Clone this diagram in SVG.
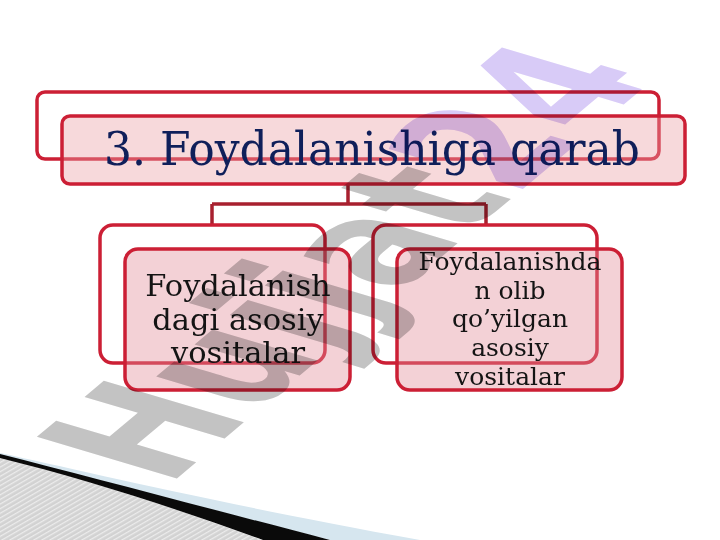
<svg xmlns="http://www.w3.org/2000/svg" width="720" height="540" viewBox="0 0 720 540">
<defs>
<pattern id="hatch" width="4" height="4" patternUnits="userSpaceOnUse" patternTransform="rotate(60)">
<rect width="4" height="4" fill="#d2d2d2"/>
<rect width="1.3" height="4" fill="#ececec"/>
</pattern>
</defs>
<style>
.back{fill:#ffffff;stroke:#cc1f35;stroke-width:3.5}
.front{fill:#e28d98;fill-opacity:0.4;stroke:#cc1f35;stroke-width:3.5}
.conn{fill:none;stroke:#a8202f;stroke-width:3.5}
.t{font-family:"DejaVu Serif","Liberation Serif",serif;text-anchor:middle;fill:#141414}
.wm{font-family:"DejaVu Sans","Liberation Sans",sans-serif;font-weight:bold;font-size:100px;mix-blend-mode:multiply}
</style>
<rect width="720" height="540" fill="#ffffff"/>

<g id="bottom-decor">
<path d="M0,456 C80,478 170,506 262,540 L0,540 Z" fill="url(#hatch)"/>
<path d="M0,453 C80,470 200,500 420,540 L330,540 C250,520 120,485 0,455 Z" fill="#d6e6ef"/>
<path d="M0,454 C90,477 200,506 330,540 L263,540 C180,510 90,480 0,458 Z" fill="#0a0a0a"/>
</g>

<g id="connectors">
<path class="conn" d="M348,184 V204 M212,204 H486 M212,204 V225 M486,204 V225"/>
</g>

<g id="title">
<rect class="back" x="37" y="92" width="622" height="67" rx="8"/>
<rect class="front" x="62" y="116" width="623" height="68" rx="8" style="fill:#eaa0a4"/>
<text class="t" x="372" y="165" font-size="46" textLength="536" lengthAdjust="spacingAndGlyphs" style="fill:#0f1f5a">3. Foydalanishiga qarab</text>
</g>

<g id="node-left">
<rect class="back" x="100" y="225" width="225" height="138" rx="13"/>
<rect class="front" x="125" y="249" width="225" height="141" rx="13"/>
<text class="t" font-size="30.5"><tspan x="238" y="296">Foydalanish</tspan><tspan x="238" y="330">dagi asosiy</tspan><tspan x="238" y="363">vositalar</tspan></text>
</g>

<g id="node-right">
<rect class="back" x="373" y="225" width="224" height="138" rx="13"/>
<rect class="front" x="397" y="249" width="225" height="141" rx="13"/>
<text class="t" font-size="25"><tspan x="510" y="270">Foydalanishda</tspan><tspan x="510" y="299">n olib</tspan><tspan x="510" y="327">qo’yilgan</tspan><tspan x="510" y="356">asosiy</tspan><tspan x="510" y="385">vositalar</tspan></text>
</g>

<g id="watermark">
<text class="wm" transform="matrix(1.025,-0.858,1.92,0.57,167.5,486.3)" x="0" y="0" fill="#c3c3c3">Hujjat<tspan fill="#d8cbf7">24</tspan></text>
</g>
</svg>
